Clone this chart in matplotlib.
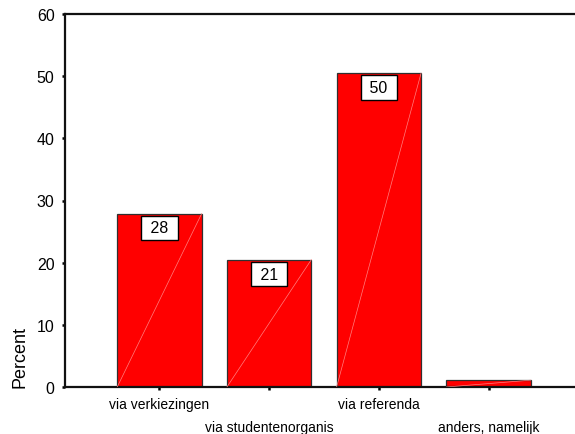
import matplotlib
matplotlib.use("Agg")
import matplotlib.pyplot as plt

categories = ["via verkiezingen", "via studentenorganis", "via referenda", "anders, namelijk"]
percent = [27.9, 20.5, 50.5, 1.1]
bar_labels = ["28", "21", "50", ""]
y_ticks = [0, 10, 20, 30, 40, 50, 60]

plt.rcParams["font.family"] = ["Liberation Sans", "DejaVu Sans"]

fig = plt.figure(figsize=(5.75, 4.35), dpi=100)
ax = fig.add_axes([65 / 575, 47 / 435, 510 / 575, 373 / 435])

x = list(range(len(categories)))
width = 0.77
ax.bar(x, percent, width=width, color="#ff0000", edgecolor="#303030", linewidth=0.9, zorder=2)

# faint diagonal streak on each bar, like the old SPSS fill
for xi, v in zip(x, percent):
    ax.plot([xi - width / 2, xi + width / 2], [0, v], color="#ff8080", linewidth=0.5, zorder=5)

for xi, v, lab in zip(x, percent, bar_labels):
    if lab:
        ax.annotate(" " + lab + " ", xy=(xi, v), xytext=(0, -5), textcoords="offset points",
                    ha="center", va="top", fontsize=11.5, zorder=4,
                    bbox=dict(boxstyle="square,pad=0.3", facecolor="white", edgecolor="black", linewidth=1.0))

ax.set_xlim(-0.861, 3.788)
ax.set_ylim(0, 60)
ax.set_yticks(y_ticks)
ax.set_yticklabels([str(t) for t in y_ticks], fontsize=11.5)
ax.set_xticks(x)
ax.set_xticklabels(categories, fontsize=10)

for side in ["left", "bottom", "top"]:
    ax.spines[side].set_linewidth(1.6)
    ax.spines[side].set_color("#111111")
ax.spines["right"].set_visible(False)

ax.tick_params(axis="y", direction="out", length=2.5, width=1.8, pad=5)
ax.tick_params(axis="x", direction="out", length=2.5, width=1.8)
for i, t in enumerate(ax.xaxis.get_major_ticks()):
    t.set_pad(5 if i % 2 == 0 else 21.5)

ax.set_ylabel("Percent", fontsize=13, loc="bottom")
ax.yaxis.set_label_coords(-0.072, 0)

fig.savefig("out.png", dpi=100)
